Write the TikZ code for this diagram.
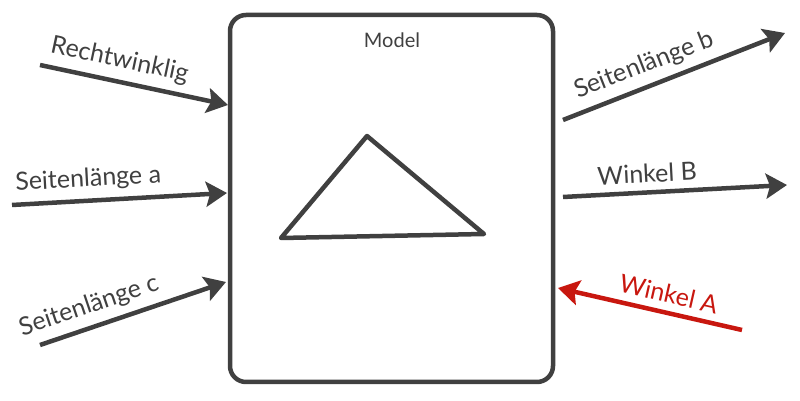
\documentclass[tikz,border=0pt]{standalone}
\usepackage{fontspec}
\setmainfont{Lato}
\usetikzlibrary{arrows.meta}
\definecolor{ink}{HTML}{404040}
\definecolor{alarm}{HTML}{C8170F}
\tikzset{
  pen/.style={draw=ink, line width=4.5pt, line join=round},
  feed/.style={ink, line width=4.5pt, -{Stealth[length=21pt,width=25pt,inset=4pt]}},
  lbl/.style={font=\fontsize{25}{28}\selectfont, text=ink, sloped, above=4pt}
}
\begin{document}
\begin{tikzpicture}[x=1pt,y=1pt]
        \useasboundingbox (0,0) rectangle (800,401);
        \node[pen, rounded corners=16pt, minimum width=323pt, minimum height=367pt] (model) at (391.5,202.5) {};
        \node[font=\fontsize{20}{24}\selectfont, text=ink] (title) at (392,361) {Model};
        \coordinate (tl) at (281,163);
        \coordinate (tt) at (367,265);
        \coordinate (tr) at (484,167);
        \draw[pen] (tl) -- (tt) -- (tr) -- cycle;

        \coordinate (r0) at (40,336);   \coordinate (r1) at (228,296);
        \coordinate (a0) at (12,196);   \coordinate (a1) at (227,208);
        \coordinate (c0) at (40,56);    \coordinate (c1) at (226,119);
        \coordinate (b0) at (563,281);  \coordinate (b1) at (785,368);
        \coordinate (w0) at (563,204);  \coordinate (w1) at (787,216);
        \coordinate (v0) at (742,71);   \coordinate (v1) at (558,113);

        \draw[feed] (r0) -- node[lbl, pos=0.4] {Rechtwinklig} (r1);
        \draw[feed] (a0) -- node[lbl, pos=0.36] {Seitenlänge a} (a1);
        \draw[feed] (c0) -- node[lbl, pos=0.3] {Seitenlänge c} (c1);
        \draw[feed] (b0) -- node[lbl, pos=0.4] {Seitenlänge b} (b1);
        \draw[feed] (w0) -- node[lbl, pos=0.38] {Winkel B} (w1);
        \draw[feed, alarm] (v0) -- node[lbl, pos=0.42, text=alarm] {Winkel A} (v1);
      \end{tikzpicture}
\end{document}
